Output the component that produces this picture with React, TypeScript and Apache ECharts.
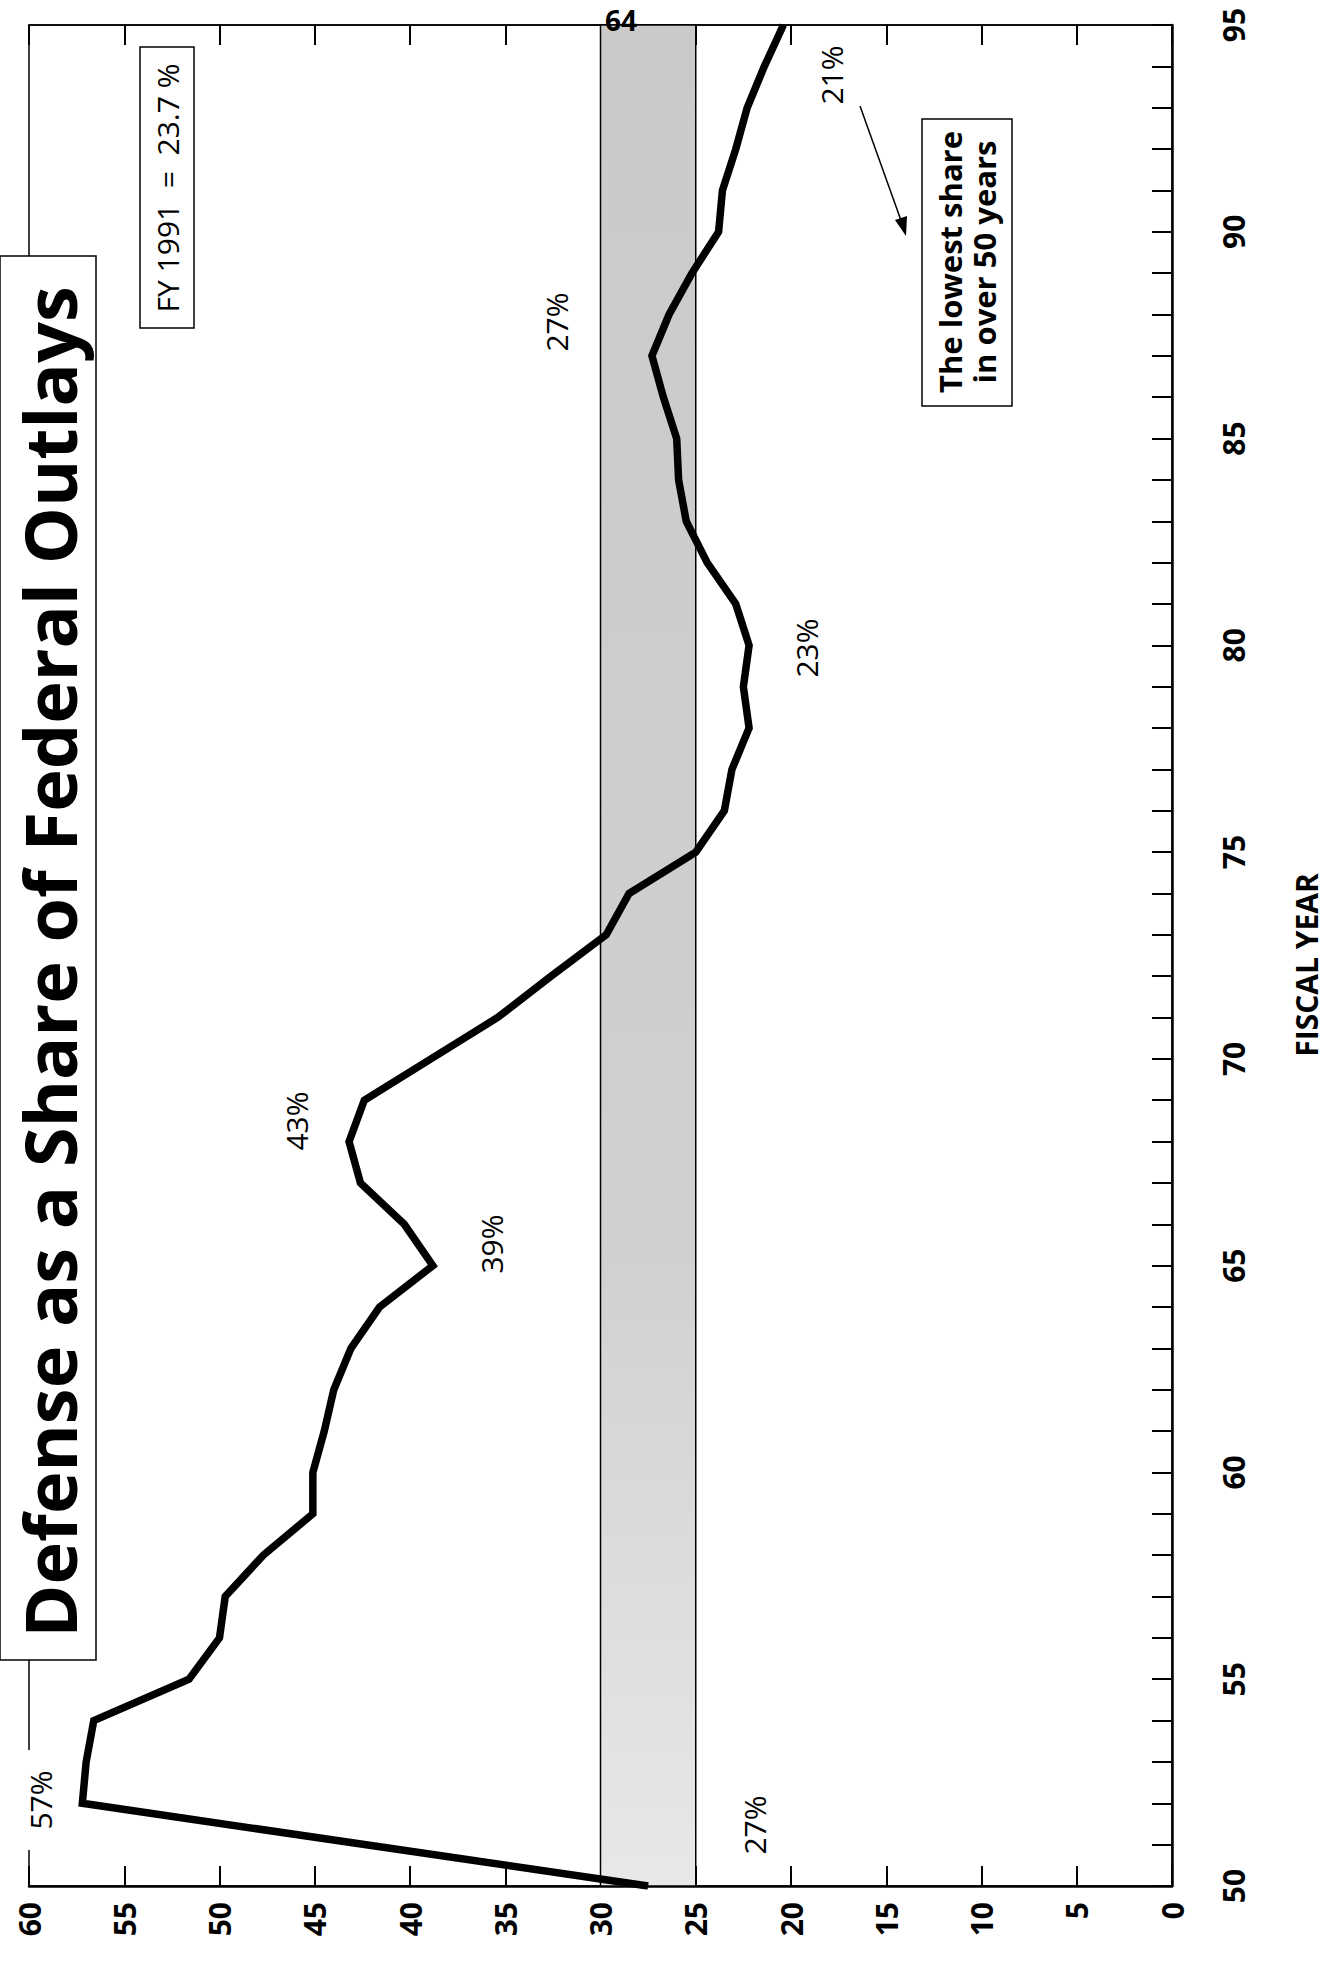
import React, { useEffect, useRef } from "react";
import * as echarts from "echarts";

// Fiscal year (19xx) and defense share of federal outlays (%)
const years = [50, 52, 53, 54, 55, 56, 57, 58, 59, 60, 61, 62, 63, 64, 65, 66, 67, 68, 69, 70, 71, 72, 73, 74, 75, 76, 77, 78, 79, 80, 81, 82, 83, 84, 85, 86, 87, 88, 89, 90, 91, 92, 93, 94, 95];
const shares = [27.5, 57.2, 57.0, 56.6, 51.6, 50.0, 49.7, 47.7, 45.1, 45.1, 44.5, 44.0, 43.1, 41.6, 38.8, 40.3, 42.6, 43.2, 42.4, 38.9, 35.4, 32.6, 29.7, 28.5, 25.0, 23.5, 23.1, 22.2, 22.5, 22.2, 22.9, 24.4, 25.5, 25.9, 26.0, 26.7, 27.3, 26.4, 25.2, 23.8, 23.6, 22.9, 22.3, 21.4, 20.4];

const bandRange = [30, 25];
const shareAxis = { min: 0, max: 60, step: 5 };
const yearAxis = { min: 50, max: 95, step: 5 };

const titleText = "Defense as a Share of Federal Outlays";
const fyNote = "FY 1991  =  23.7 %";
const lowestNote = "The lowest share\nin over 50 years";
const axisTitle = "FISCAL YEAR";

const FONT = '"Open Sans", "Noto Sans", sans-serif';

export default function App() {
  const ref = useRef<HTMLDivElement>(null);

  useEffect(() => {
    if (!ref.current) return;
    const chart = echarts.init(ref.current, undefined, { renderer: "svg" });
    const data = years.map((y, i) => [shares[i], y]);

    const rotText = (x: number, y: number, text: string, font: string, extra: any = {}) => ({
      type: "text",
      x,
      y,
      rotation: Math.PI / 2,
      z: 110,
      style: {
        text,
        font,
        fill: "#000",
        textAlign: "center",
        textVerticalAlign: "middle",
        ...extra,
      },
    });

    const pctFont = `30px ${FONT}`;

    chart.setOption({
      animation: false,
      backgroundColor: "#fff",
      grid: {
        left: 29,
        top: 25,
        right: 172,
        bottom: 84,
        show: true,
        borderColor: "#000",
        borderWidth: 1.5,
        backgroundColor: "transparent",
      },
      xAxis: [
        {
          type: "value",
          min: shareAxis.min,
          max: shareAxis.max,
          interval: shareAxis.step,
          inverse: true,
          position: "bottom",
          axisLine: { show: true, onZero: false, lineStyle: { color: "#000", width: 2.5 } },
          axisTick: { show: true, inside: true, length: 20, lineStyle: { color: "#000", width: 2 } },
          axisLabel: {
            rotate: 90,
            margin: 16,
            fontSize: 30,
            fontWeight: "bold",
            color: "#000",
            fontFamily: FONT,
          },
          splitLine: { show: false },
        },
        {
          type: "value",
          min: shareAxis.min,
          max: shareAxis.max,
          interval: shareAxis.step,
          inverse: true,
          position: "top",
          axisLine: { show: true, onZero: false, lineStyle: { color: "#000", width: 1.5 } },
          axisTick: { show: true, inside: true, length: 20, lineStyle: { color: "#000", width: 2 } },
          axisLabel: { show: false },
          splitLine: { show: false },
        },
      ],
      yAxis: [
        {
          type: "value",
          min: yearAxis.min,
          max: yearAxis.max,
          interval: yearAxis.step,
          position: "right",
          axisLine: { show: true, onZero: false, lineStyle: { color: "#000", width: 2.5 } },
          axisTick: { show: true, inside: true, length: 20, lineStyle: { color: "#000", width: 2 } },
          minorTick: { show: true, splitNumber: 5, length: 20, lineStyle: { color: "#000", width: 2 } },
          axisLabel: {
            rotate: 90,
            margin: 46,
            fontSize: 30,
            fontWeight: "bold",
            color: "#000",
            fontFamily: FONT,
          },
          splitLine: { show: false },
        },
      ],
      series: [
        {
          type: "line",
          xAxisIndex: 0,
          yAxisIndex: 0,
          data,
          symbol: "none",
          showSymbol: false,
          lineStyle: { color: "#000", width: 7.5, join: "miter" },
          markArea: {
            silent: true,
            itemStyle: {
              color: new echarts.graphic.LinearGradient(0, 0, 0, 1, [
                { offset: 0, color: "#cacaca" },
                { offset: 0.65, color: "#d0d0d0" },
                { offset: 1, color: "#e8e8e8" },
              ]),
              borderColor: "#000",
              borderWidth: 1.5,
            },
            data: [[{ xAxis: bandRange[0] }, { xAxis: bandRange[1] }]],
          },
          z: 5,
        },
      ],
      graphic: [
        // title box
        {
          type: "rect",
          z: 100,
          shape: { x: 0, y: 256, width: 96, height: 1404 },
          style: { fill: "#fff", stroke: "#000", lineWidth: 1.5 },
        },
        rotText(49, 962, titleText, `bold 72px ${FONT}`, { lineHeight: 76 }),
        // FY 1991 box
        {
          type: "rect",
          z: 100,
          shape: { x: 140, y: 47, width: 54, height: 281 },
          style: { fill: "#fff", stroke: "#000", lineWidth: 1.5 },
        },
        rotText(167, 188, fyNote, `30px ${FONT}`),
        // lowest share box
        {
          type: "rect",
          z: 100,
          shape: { x: 922, y: 119, width: 90, height: 287 },
          style: { fill: "#fff", stroke: "#000", lineWidth: 1.5 },
        },
        rotText(967, 262, lowestNote, `bold 31px ${FONT}`, { lineHeight: 34 }),
        // arrow
        {
          type: "line",
          z: 100,
          shape: { x1: 860, y1: 106, x2: 903, y2: 226 },
          style: { stroke: "#000", lineWidth: 1.5 },
        },
        {
          type: "polygon",
          z: 100,
          shape: { points: [[906, 236], [907, 216], [895, 220]] },
          style: { fill: "#000" },
        },
        // 57% label, interrupting the left border
        {
          type: "rect",
          z: 100,
          shape: { x: 22, y: 1750, width: 36, height: 100 },
          style: { fill: "#fff" },
        },
        rotText(40, 1800, "57%", pctFont),
        rotText(296, 1121, "43%", pctFont),
        rotText(491, 1244, "39%", pctFont),
        rotText(556, 322, "27%", pctFont),
        rotText(806, 648, "23%", pctFont),
        rotText(831, 75, "21%", pctFont),
        rotText(754, 1825, "27%", pctFont),
        {
          type: "text",
          x: 621,
          y: 20,
          z: 110,
          style: {
            text: "64",
            font: `bold 28px ${FONT}`,
            fill: "#000",
            textAlign: "center",
            textVerticalAlign: "middle",
          },
        },
        rotText(1306, 965, axisTitle, `bold 30px ${FONT}`),
      ],
    });

    return () => chart.dispose();
  }, []);

  return (
    <div
      ref={ref}
      style={{ position: "absolute", left: 0, top: 0, width: 1344, height: 1970 }}
    />
  );
}
